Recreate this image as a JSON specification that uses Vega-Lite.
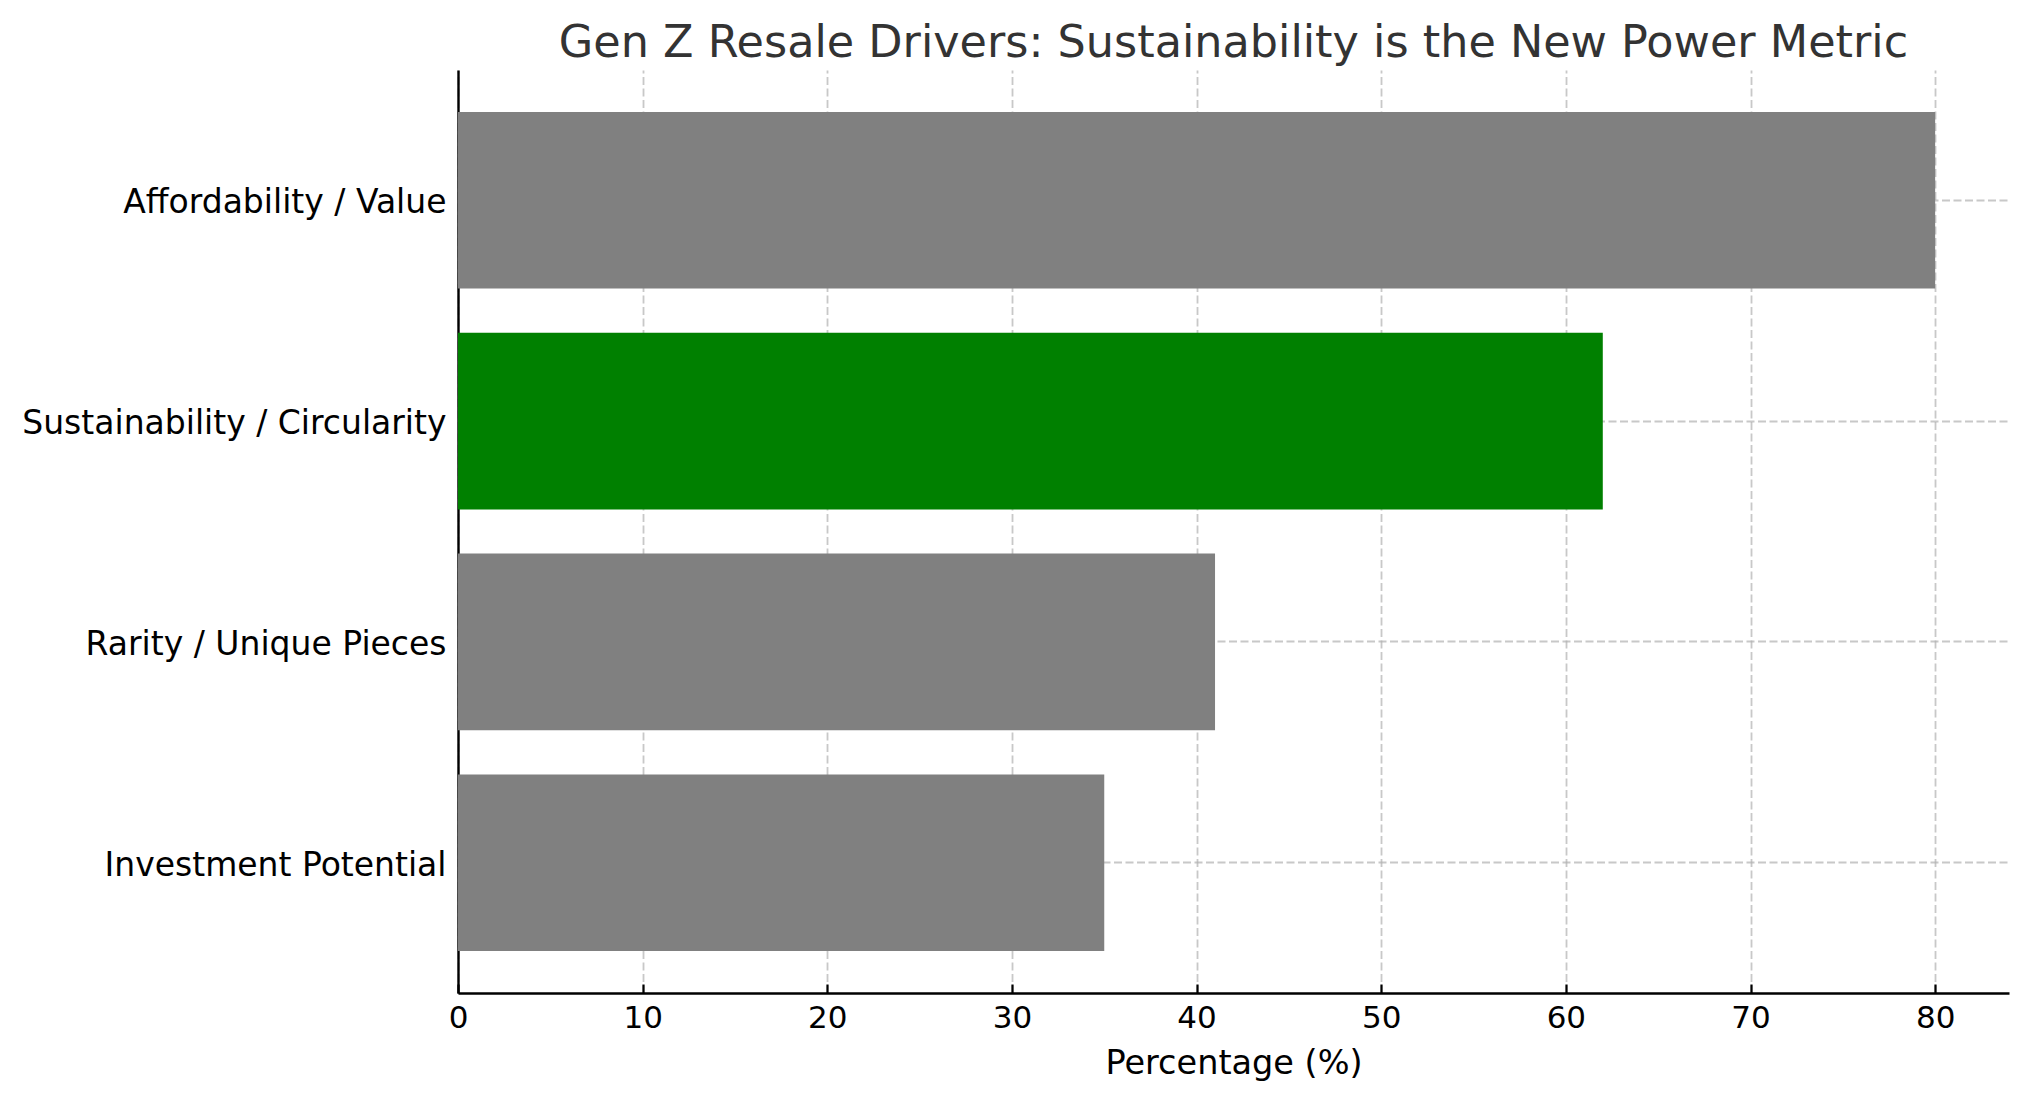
{
  "$schema": "https://vega.github.io/schema/vega-lite/v6.json",
  "width": 1551,
  "height": 923,
  "autosize": {"type": "none"},
  "padding": {"left": 458, "top": 70, "right": 19, "bottom": 108},
  "background": "white",
  "title": {
    "text": "Gen Z Resale Drivers: Sustainability is the New Power Metric",
    "font": "DejaVu Sans",
    "fontSize": 44.5,
    "fontWeight": "normal",
    "color": "#333333",
    "anchor": "middle",
    "baseline": "alphabetic",
    "offset": -31
  },
  "data": {
    "values": [
      {"driver": "Affordability / Value", "pct": 80, "highlight": "no"},
      {"driver": "Sustainability / Circularity", "pct": 62, "highlight": "yes"},
      {"driver": "Rarity / Unique Pieces", "pct": 41, "highlight": "no"},
      {"driver": "Investment Potential", "pct": 35, "highlight": "no"}
    ]
  },
  "config": {
    "view": {"stroke": null},
    "axis": {
      "labelFont": "DejaVu Sans",
      "titleFont": "DejaVu Sans",
      "labelColor": "black",
      "titleColor": "black",
      "domainColor": "black",
      "domainWidth": 2.4,
      "tickColor": "black",
      "tickWidth": 2.2,
      "tickSize": -9,
      "gridColor": "#b0b0b0",
      "gridOpacity": 0.7,
      "gridDash": [8, 3.5],
      "gridWidth": 1.8,
      "zindex": 1
    }
  },
  "mark": {"type": "bar"},
  "encoding": {
    "y": {
      "field": "driver",
      "type": "nominal",
      "sort": null,
      "scale": {"paddingInner": 0.2, "paddingOuter": 0.19},
      "axis": {
        "title": null,
        "labelFontSize": 33,
        "labelPadding": 21,
        "labelOffset": 3,
        "labelLimit": 600,
        "grid": true
      }
    },
    "x": {
      "field": "pct",
      "type": "quantitative",
      "scale": {"domain": [0, 84], "nice": false, "zero": true},
      "axis": {
        "title": "Percentage (%)",
        "titleFontSize": 33.5,
        "titleFontWeight": "normal",
        "titlePadding": 14,
        "labelFontSize": 31,
        "labelPadding": 19,
        "labelFlush": false,
        "values": [0, 10, 20, 30, 40, 50, 60, 70, 80],
        "grid": true
      }
    },
    "color": {
      "field": "highlight",
      "type": "nominal",
      "scale": {"domain": ["no", "yes"], "range": ["#808080", "#008000"]},
      "legend": null
    }
  }
}
